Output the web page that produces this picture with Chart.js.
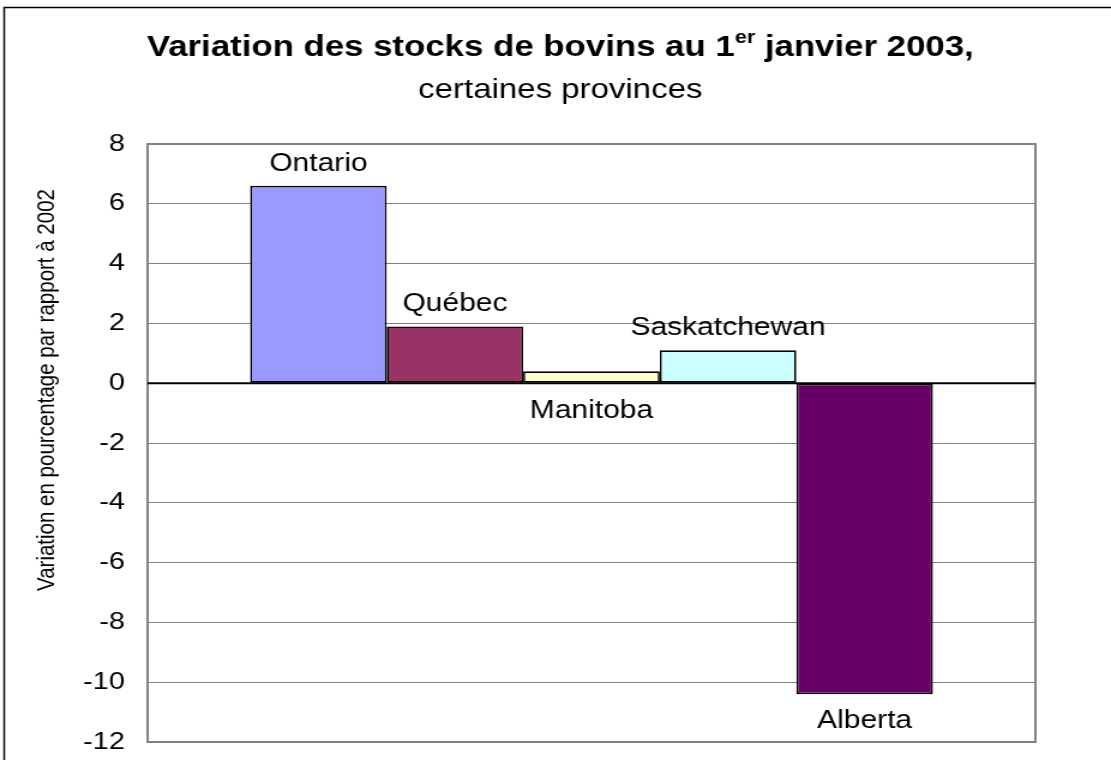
<!DOCTYPE html>
<html>
<head>
<meta charset="utf-8">
<script src="https://cdn.jsdelivr.net/npm/chart.js@4.4.1/dist/chart.umd.min.js"></script>
<style>
  html, body { margin: 0; padding: 0; background: #fff; }
</style>
</head>
<body>
<!-- the original picture is stretched horizontally, so the canvas is too -->
<canvas id="bovins" width="926" height="760" style="display:block;width:1111px;height:760px"></canvas>
<script>
// Data
const provinces = ["Ontario", "Québec", "Manitoba", "Saskatchewan", "Alberta"];
const variations = [6.6, 1.9, 0.4, 1.1, -10.4];
const couleurs = ["#9999FF", "#993366", "#FFFFCC", "#CCFFFF", "#660066"];
const yTicks = [8, 6, 4, 2, 0, -2, -4, -6, -8, -10, -12];
const etiquettesDessous = ["Manitoba"];
const titreY = "Variation en pourcentage par rapport à 2002";

const FONT = '"Liberation Sans", Arial, sans-serif';

const datasets = provinces.map((p, i) => ({
    label: p,
    data: [variations[i]],
    backgroundColor: couleurs[i],
    borderColor: "#000000",
    borderWidth: 1.7,
    borderSkipped: false,
    labelBelow: etiquettesDessous.includes(p),
}));

// titre, titre de l'axe, cadre extérieur
const titrePlugin = {
    id: "titre",
    afterDraw(chart) {
        const ctx = chart.ctx;
        ctx.save();
        ctx.strokeStyle = "#000";
        ctx.lineWidth = 1.5;
        ctx.strokeRect(3.5, 7.5, chart.width + 20, chart.height + 20);

        const cx = chart.width / 2 + 4;
        const big = "bold 29px " + FONT;
        const small = "bold 18px " + FONT;
        const p1 = "Variation des stocks de bovins au 1", sup = "er", p2 = " janvier 2003,";
        ctx.font = big;
        const w1 = ctx.measureText(p1).width;
        const w3 = ctx.measureText(p2).width;
        ctx.font = small;
        const w2 = ctx.measureText(sup).width;
        let x = cx - (w1 + w2 + w3) / 2;
        ctx.fillStyle = "#000";
        ctx.textAlign = "left";
        ctx.textBaseline = "alphabetic";
        ctx.font = big;
        ctx.fillText(p1, x, 56);
        x += w1;
        ctx.font = small;
        ctx.fillText(sup, x, 43);
        x += w2;
        ctx.font = big;
        ctx.fillText(p2, x, 56);

        ctx.font = "27.5px " + FONT;
        ctx.textAlign = "center";
        ctx.fillText("certaines provinces", cx, 98);

        // axis title, a bit above the middle of the plot as in the original
        ctx.translate(39, 390);
        ctx.rotate(-Math.PI / 2);
        ctx.font = "20.5px " + FONT;
        ctx.textBaseline = "middle";
        ctx.fillText(titreY, 0, 0);
        ctx.restore();
    },
};

// cadre du graphique, axe à zéro, étiquettes des barres
const cadrePlugin = {
    id: "cadre",
    beforeDatasetsDraw(chart) {
        const { ctx, chartArea: a } = chart;
        ctx.save();
        ctx.strokeStyle = "#808080";
        ctx.lineWidth = 2;
        ctx.strokeRect(a.left, a.top, a.right - a.left, a.bottom - a.top);
        ctx.restore();
    },
    afterDatasetsDraw(chart) {
        const { ctx, chartArea: a } = chart;
        const y0 = chart.scales.y.getPixelForValue(0);
        ctx.save();
        ctx.strokeStyle = "#000";
        ctx.lineWidth = 2;
        ctx.beginPath();
        ctx.moveTo(a.left, y0);
        ctx.lineTo(a.right, y0);
        ctx.stroke();

        ctx.font = "25px " + FONT;
        ctx.fillStyle = "#000";
        ctx.textAlign = "center";
        ctx.textBaseline = "middle";
        chart.data.datasets.forEach((ds, i) => {
            const bar = chart.getDatasetMeta(i).data[0];
            let y;
            if (ds.data[0] < 0) y = bar.y + 27;
            else if (ds.labelBelow) y = y0 + 28;
            else y = bar.y - 22;
            ctx.fillText(ds.label, bar.x, y);
        });
        ctx.restore();
    },
};

new Chart(document.getElementById("bovins"), {
    type: "bar",
    data: {
        labels: [""],
        datasets: datasets,
    },
    options: {
        responsive: false,
        devicePixelRatio: 1,
        animation: false,
        categoryPercentage: 0.769,
        barPercentage: 1,
        layout: {
            autoPadding: false,
            padding: { top: 144, bottom: 18, left: 27, right: 63 },
        },
        scales: {
            x: {
                display: false,
            },
            y: {
                min: Math.min(...yTicks),
                max: Math.max(...yTicks),
                afterFit: (scale) => { scale.width = 96; },
                ticks: {
                    stepSize: yTicks[0] - yTicks[1],
                    color: "#000",
                    padding: 0,
                    font: { family: FONT, size: 24 },
                },
                grid: {
                    color: "#808080",
                    lineWidth: 1,
                    drawTicks: true,
                    tickLength: 19,
                    tickColor: "rgba(0,0,0,0)",
                },
                border: { display: false },
                title: { display: false },
            },
        },
        plugins: {
            legend: { display: false },
            tooltip: { enabled: false },
        },
    },
    plugins: [titrePlugin, cadrePlugin],
});
</script>
</body>
</html>
